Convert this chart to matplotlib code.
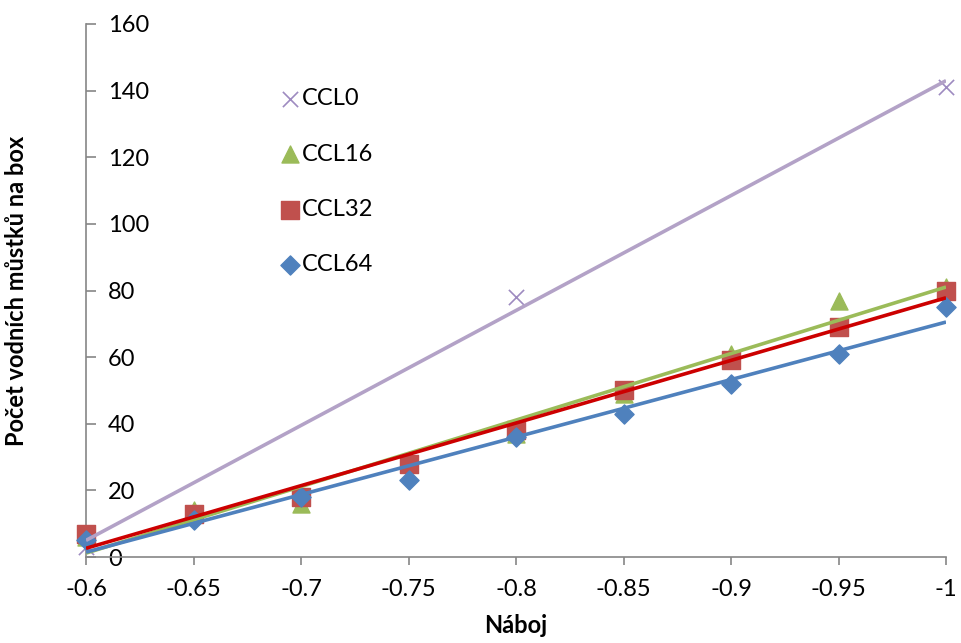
import numpy as np
import matplotlib.pyplot as plt

plt.rcParams['font.family'] = ['Lato', 'DejaVu Sans']

# data
naboj = [-0.6, -0.65, -0.7, -0.75, -0.8, -0.85, -0.9, -0.95, -1.0]
ccl0_x = [-0.6, -0.8, -1.0]
ccl0 = [3, 78, 141]
ccl16 = [6, 14, 16, 29, 37, 49, 61, 77, 81]
ccl32 = [7, 13, 18, 28, 38, 50, 59, 69, 80]
ccl64 = [5, 11, 18, 23, 36, 43, 52, 61, 75]

fig = plt.figure(figsize=(9.62, 6.43), dpi=100)
ax = fig.add_axes([0.0894, 0.1337, 0.894, 0.829])

# markers
ax.scatter(ccl0_x, ccl0, marker='x', s=120, color='#9E8BC0', linewidths=1.2,
           label='CCL0', zorder=3, clip_on=False)
ax.scatter(naboj, ccl16, marker='^', s=150, color='#9BBB59', label='CCL16',
           zorder=3, clip_on=False)
ax.scatter(naboj, ccl32, marker='s', s=150, color='#C0504D', label='CCL32',
           zorder=4, clip_on=False)
ax.scatter(naboj, ccl64, marker='D', s=95, color='#4F81BD', label='CCL64',
           zorder=5, clip_on=False)

# linear trend lines
def trend(xs, ys, color):
    k, q = np.polyfit(xs, ys, 1)
    xx = np.array([-0.6, -1.0])
    ax.plot(xx, k * xx + q, color=color, lw=2.6, zorder=6, solid_capstyle='butt')

trend(ccl0_x, ccl0, '#B3A2C7')
trend(naboj, ccl16, '#9BBB59')
trend(naboj, ccl64, '#4F81BD')
trend(naboj, ccl32, '#CC0000')

ax.set_xlim(-0.6, -1.0)
ax.set_ylim(0, 160)
ax.set_xticks(naboj)
ax.set_xticklabels(['-0.6', '-0.65', '-0.7', '-0.75', '-0.8', '-0.85', '-0.9', '-0.95', '-1'])
ax.set_yticks(range(0, 161, 20))

for s in ['top', 'right']:
    ax.spines[s].set_visible(False)
for s in ['left', 'bottom']:
    ax.spines[s].set_color('#868686')
    ax.spines[s].set_linewidth(1.2)

ax.tick_params(axis='x', direction='out', length=6, width=1.2, color='#868686',
               labelsize=17, pad=10)
ax.tick_params(axis='y', direction='in', length=7, width=1.2, color='#868686',
               labelsize=17, pad=-16)
plt.setp(ax.get_yticklabels(), ha='left')

ax.set_xlabel('Náboj', fontsize=17, fontweight='bold', labelpad=10)
ax.set_ylabel('Počet vodních můstků na box', fontsize=17, fontweight='bold')
ax.yaxis.set_label_coords(-0.068, 0.5)

ax.legend(loc='upper left', bbox_to_anchor=(0.21, 0.897), frameon=False,
          fontsize=17, labelspacing=1.45, handletextpad=-0.1, handlelength=1.2,
          scatterpoints=1, borderaxespad=0)

fig.savefig('out.png', dpi=100)
